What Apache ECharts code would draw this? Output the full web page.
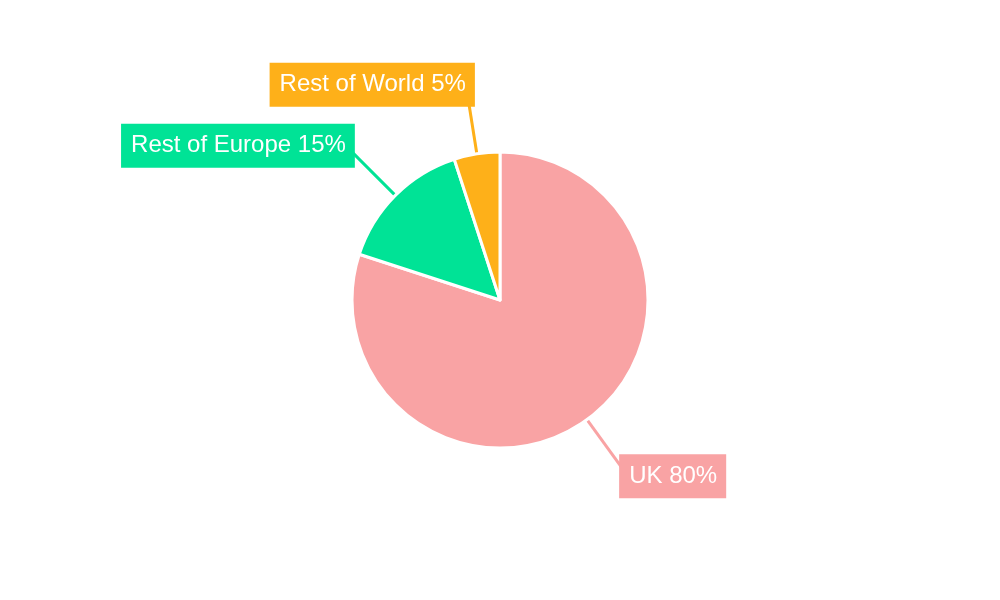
<!DOCTYPE html>
<html><head><meta charset="utf-8">
<script src="https://cdn.jsdelivr.net/npm/echarts@6/dist/echarts.min.js"></script>
<style>html,body{margin:0;padding:0;background:#fff}#c{width:1000px;height:600px}</style>
</head><body><div id="c"></div>
<script>
const categories = ['UK', 'Rest of Europe', 'Rest of World'];
const values = [80, 15, 5];
const colors = ['#F9A3A4', '#00E396', '#FEB019'];

const chart = echarts.init(document.getElementById('c'), null, {renderer: 'canvas'});
chart.setOption({
  animation: false,
  series: [{
    type: 'pie',
    center: [500, 300],
    radius: [0, 148],
    startAngle: 90,
    clockwise: true,
    avoidLabelOverlap: false,
    data: categories.map((c, i) => ({name: c, value: values[i], itemStyle: {color: colors[i]}, label: {backgroundColor: colors[i]}})),
    itemStyle: {borderColor: '#fff', borderWidth: 3},
    label: {
      formatter: p => p.name + ' ' + p.value + '%',
      color: '#fff',
      fontFamily: 'Liberation Sans',
      fontSize: 24,
      lineHeight: 28,
      padding: [9, 9, 7, 10],
      distanceToLabelLine: -9
    },
    labelLine: {length: 70, length2: 0, lineStyle: {width: 3}},
    emphasis: {disabled: true}
  }]
});
</script></body></html>
